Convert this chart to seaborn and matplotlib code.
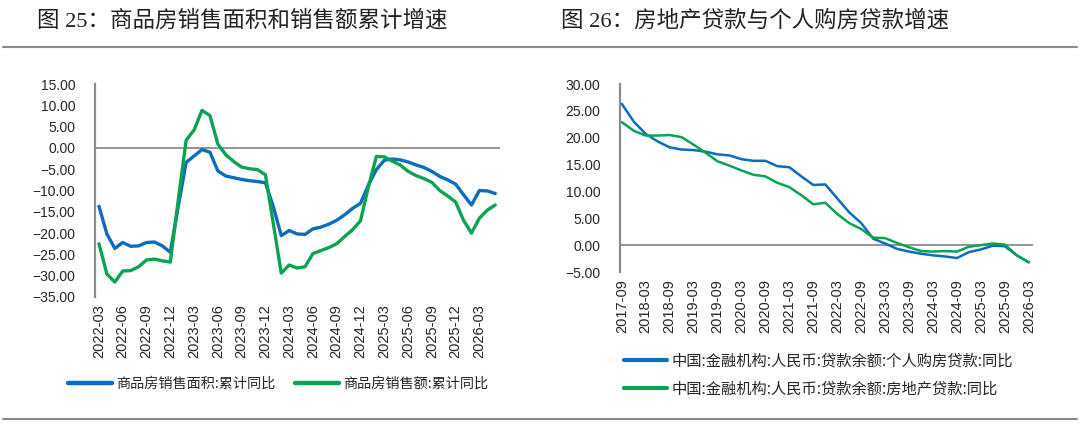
import seaborn as sns
import matplotlib.pyplot as plt
import pandas as pd

sns.set_style("white")
plt.rcParams['font.family'] = ['Liberation Sans', 'Noto Sans CJK SC', 'DejaVu Sans']
plt.rcParams['axes.unicode_minus'] = True

BLUE = "#0b6cc0"
GREEN = "#0ba352"
GRAY = "#8c8c8c"
CJK = ['Noto Sans CJK SC', 'DejaVu Sans']

# ---- left chart data: monthly, 2022-03 .. 2026-05
left_months = pd.date_range("2022-03-01", "2026-05-01", freq="MS").strftime("%Y-%m").tolist()
area_yoy = [-13.7, -20.2, -23.6, -22.2, -23.1, -23.0, -22.2, -22.1, -23.0, -24.5,
            -13.8, -3.4, -1.9, -0.4, -1.0, -5.4, -6.6, -7.0, -7.4, -7.7,
            -7.9, -8.2, -13.8, -20.6, -19.4, -20.2, -20.3, -19.0, -18.6, -17.9,
            -17.0, -15.7, -14.2, -13.0, -8.7, -5.1, -2.9, -2.6, -2.8, -3.3,
            -4.0, -4.6, -5.5, -6.7, -7.5, -8.5, -11.0, -13.4, -10.0, -10.1, -10.7]
sales_yoy = [-22.5, -29.6, -31.5, -28.9, -28.8, -27.9, -26.3, -26.1, -26.5, -26.8,
             -12.3, 1.8, 4.2, 8.8, 7.6, 0.9, -1.6, -3.2, -4.5, -4.9,
             -5.1, -6.3, -17.8, -29.4, -27.5, -28.2, -27.9, -24.8, -24.1, -23.4,
             -22.5, -20.8, -19.2, -17.1, -9.1, -2.0, -2.1, -3.1, -4.0, -5.5,
             -6.5, -7.2, -8.1, -10.0, -11.3, -12.7, -17.0, -20.0, -16.5, -14.6, -13.4]
left_names = ["商品房销售面积:累计同比", "商品房销售额:累计同比"]

# ---- right chart data: quarterly, 2017-09 .. 2026-03
right_quarters = pd.date_range("2017-09-01", "2026-03-01", freq="3MS").strftime("%Y-%m").tolist()
mortgage_yoy = [26.3, 23.0, 20.7, 19.3, 18.2, 17.8, 17.7, 17.4, 16.9, 16.7,
                16.0, 15.7, 15.7, 14.7, 14.5, 12.8, 11.2, 11.3, 8.7, 6.1,
                4.1, 1.2, 0.3, -0.7, -1.2, -1.6, -1.9, -2.1, -2.4, -1.3,
                -0.8, -0.1, -0.2, -1.9, -3.2]
realestate_yoy = [22.9, 21.3, 20.4, 20.4, 20.5, 20.1, 18.7, 17.2, 15.6, 14.8,
                  13.9, 13.1, 12.8, 11.6, 10.8, 9.3, 7.6, 7.9, 5.8, 4.1,
                  3.0, 1.4, 1.3, 0.4, -0.4, -1.1, -1.2, -1.1, -1.2, -0.3,
                  0.0, 0.3, 0.1, -1.9, -3.2]
right_names = ["中国:金融机构:人民币:贷款余额:个人购房贷款:同比",
               "中国:金融机构:人民币:贷款余额:房地产贷款:同比"]

df_left = pd.DataFrame({
    "pos": list(range(len(left_months))) * 2,
    "value": area_yoy + sales_yoy,
    "series": [left_names[0]] * len(area_yoy) + [left_names[1]] * len(sales_yoy),
})
df_right = pd.DataFrame({
    "pos": list(range(len(right_quarters))) * 2,
    "value": mortgage_yoy + realestate_yoy,
    "series": [right_names[0]] * len(mortgage_yoy) + [right_names[1]] * len(realestate_yoy),
})

fig = plt.figure(figsize=(10.8, 4.46), dpi=100)
ax1 = fig.add_axes([95 / 1080, 1 - 297 / 446, 405 / 1080, 213 / 446])
ax2 = fig.add_axes([620 / 1080, 1 - 272 / 446, 413 / 1080, 188 / 446])

sns.lineplot(data=df_left, x="pos", y="value", hue="series",
             palette=[BLUE, GREEN], linewidth=2.4, ax=ax1, legend=True)
sns.lineplot(data=df_right, x="pos", y="value", hue="series",
             palette=[BLUE, GREEN], linewidth=1.8, ax=ax2, legend=True)


def style_axis(ax, labels, step, ylim, yticks, xlim):
    for s in ["top", "right", "bottom"]:
        ax.spines[s].set_visible(False)
    ax.spines["left"].set_color(GRAY)
    ax.spines["left"].set_linewidth(1.6)
    ax.axhline(0, color=GRAY, linewidth=1.3, zorder=1)
    ax.set_ylim(*ylim)
    ax.set_yticks(yticks)
    ax.set_yticklabels([f"{v:.2f}".replace("-", "\u2212") for v in yticks], fontsize=10)
    ax.set_xlim(*xlim)
    ticks = list(range(0, len(labels), step))
    ax.set_xticks(ticks)
    ax.set_xticklabels([labels[i] for i in ticks], rotation=90, fontsize=10.5)
    ax.tick_params(axis="y", length=0, pad=14)
    ax.tick_params(axis="x", length=0, pad=5)
    ax.set_xlabel("")
    ax.set_ylabel("")
    ax.grid(False)


style_axis(ax1, left_months, 3, (-35, 15), list(range(-35, 16, 5)), (-0.5, 50.6))
style_axis(ax2, right_quarters, 2, (-5, 30), list(range(-5, 31, 5)), (-0.15, 34.35))

# legends
h1, l1 = ax1.get_legend_handles_labels()
ax1.legend(h1, l1, loc="center left", bbox_to_anchor=(55 / 1080, 1 - 384 / 446),
           bbox_transform=fig.transFigure, ncol=2, frameon=False,
           prop={"family": CJK, "size": 10.2}, handlelength=3.1, handletextpad=0.3,
           columnspacing=1.4)
for line in ax1.get_legend().get_lines():
    line.set_linewidth(3.2)

h2, l2 = ax2.get_legend_handles_labels()
ax2.legend(h2, l2, loc="center left", bbox_to_anchor=(610 / 1080, 1 - 375 / 446),
           bbox_transform=fig.transFigure, ncol=1, frameon=False,
           prop={"family": CJK, "size": 11}, handlelength=2.8, handletextpad=0.3,
           labelspacing=0.75)
for line in ax2.get_legend().get_lines():
    line.set_linewidth(3.0)

# titles and rules
title_font = ['Liberation Serif', 'Noto Sans CJK SC']
fig.text(37 / 1080, 1 - 21 / 446, "图 25：商品房销售面积和销售额累计增速",
         fontsize=16.2, family=title_font, va="center", ha="left", color="#222222")
fig.text(561 / 1080, 1 - 21 / 446, "图 26：房地产贷款与个人购房贷款增速",
         fontsize=16.2, family=title_font, va="center", ha="left", color="#222222")
fig.add_artist(plt.Line2D([3 / 1080, 1077 / 1080], [1 - 47 / 446] * 2,
                          color="#8a8a8a", linewidth=1.5))
fig.add_artist(plt.Line2D([3 / 1080, 1077 / 1080], [1 - 419 / 446] * 2,
                          color="#8a8a8a", linewidth=1.5))

fig.savefig("out.png", dpi=100)
plt.close(fig)
